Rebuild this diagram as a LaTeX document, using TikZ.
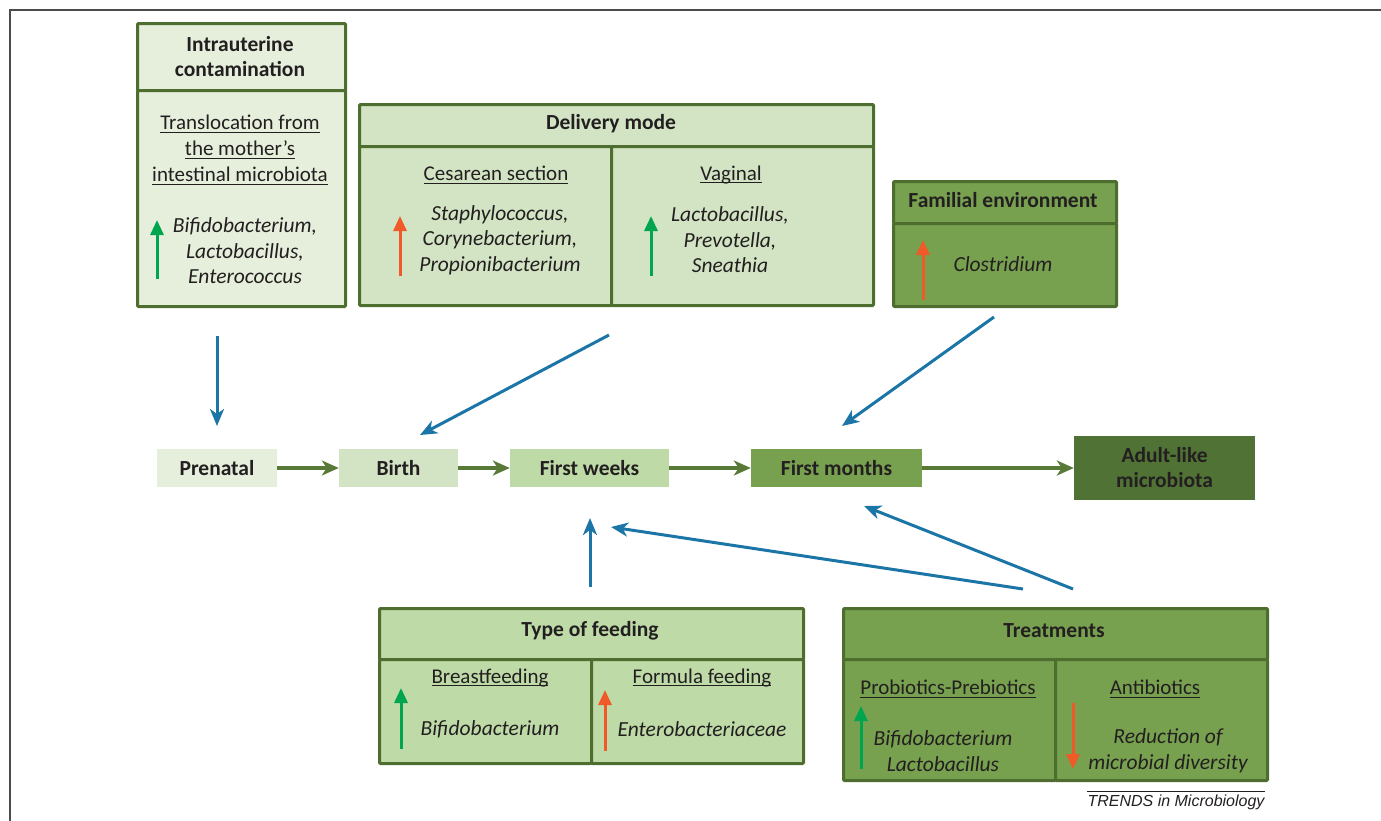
\documentclass[tikz,border=0pt]{standalone}
\usepackage{fontspec}
\setmainfont{Carlito}
\newfontfamily\arialf{Liberation Sans}
\usetikzlibrary{arrows.meta}
\definecolor{bord}{HTML}{4E6E30}
\definecolor{txt}{HTML}{231F20}
\definecolor{fA}{HTML}{E5EFDC}
\definecolor{fB}{HTML}{D2E4C3}
\definecolor{fC}{HTML}{BDDAA7}
\definecolor{fD}{HTML}{77A04F}
\definecolor{fE}{HTML}{507234}
\definecolor{bluea}{HTML}{1B75A6}
\definecolor{greena}{HTML}{00A550}
\definecolor{orangea}{HTML}{F05A28}
\definecolor{tlgreen}{HTML}{587A36}
\newcommand\ulx[1]{\setbox0\hbox{#1}\rlap{\rule[-3pt]{\wd0}{1pt}}\box0}
\tikzset{
  cell/.style={draw=bord, line width=3pt, inner sep=0pt, anchor=north west, rounded corners=1pt},
  head/.style={text=txt, font=\bfseries\fontsize{21.5}{25}\selectfont, align=center, inner sep=0pt},
  body/.style={text=txt, font=\fontsize{21}{26}\selectfont, align=center, inner sep=0pt},
  itl/.style={text=txt, font=\itshape\fontsize{21.5}{25.5}\selectfont, align=center, inner sep=0pt},
  tl/.style={text=txt, font=\bfseries\fontsize{21.5}{25}\selectfont, align=center, inner sep=0pt},
  uparr/.style={line width=3pt, -{Triangle[length=15pt,width=13pt]}},
  bluearr/.style={draw=bluea, line width=3pt, -{Stealth[length=17pt,width=14pt,inset=5pt]}},
  tlarr/.style={draw=tlgreen, line width=3.5pt, -{Stealth[length=17pt,width=15pt,inset=5pt]}},
}
\begin{document}
\begin{tikzpicture}[x=1pt,y=-1pt]
\useasboundingbox (0,0) rectangle (1381,820);
\draw[color=black!70, line width=2pt] (10,821) -- (10,10) -- (1382,10);

% Intrauterine contamination
\node[cell, fill=fA, minimum width=208pt, minimum height=67pt] (iuH) at (136,22) {};
\node[cell, fill=fA, minimum width=208pt, minimum height=216pt] (iuB) at (136,89) {};
\node[head] (iuHt) at (240,57) {Intrauterine\\contamination};
\node[body] (iuBt) at (240,150) {\ulx{Translocation from}\\\ulx{the mother's}\\\ulx{intestinal microbiota}};
\node[itl] (iuBi) at (245,251) {Bifidobacterium,\\Lactobacillus,\\Enterococcus};
\coordinate (iuA1) at (157,279); \coordinate (iuA2) at (157,220);
\draw[uparr, greena] (iuA1) -- (iuA2);

% Delivery mode
\node[cell, fill=fB, minimum width=514pt, minimum height=42pt] (dmH) at (358,103) {};
\node[cell, fill=fB, minimum width=252pt, minimum height=159pt] (dmL) at (358,145) {};
\node[cell, fill=fB, minimum width=262pt, minimum height=159pt] (dmR) at (610,145) {};
\node[head] (dmHt) at (611,124) {Delivery mode};
\node[body] (dmLt) at (496,175) {\ulx{Cesarean section}};
\node[itl] (dmLi) at (500,240) {Staphylococcus,\\Corynebacterium,\\Propionibacterium};
\node[body] (dmRt) at (731,175) {\ulx{Vaginal}};
\node[itl] (dmRi) at (730,240) {Lactobacillus,\\Prevotella,\\Sneathia};
\coordinate (dmA1) at (400,276); \coordinate (dmA2) at (400,216);
\draw[uparr, orangea] (dmA1) -- (dmA2);
\coordinate (dmB1) at (651,276); \coordinate (dmB2) at (651,216);
\draw[uparr, greena] (dmB1) -- (dmB2);

% Familial environment
\node[cell, fill=fD, minimum width=223pt, minimum height=42pt] (feH) at (892,180) {};
\node[cell, fill=fD, minimum width=223pt, minimum height=83pt] (feB) at (892,222) {};
\node[head] (feHt) at (1003,200) {Familial environment};
\node[itl] (feBi) at (1003,264) {Clostridium};
\coordinate (feA1) at (923,300); \coordinate (feA2) at (923,240);
\draw[uparr, orangea] (feA1) -- (feA2);

% Timeline
\node[tl, fill=fA, minimum width=120pt, minimum height=38pt] (pre) at (217,468) {Prenatal};
\node[tl, fill=fB, minimum width=119pt, minimum height=38pt] (birth) at (398.5,468) {Birth};
\node[tl, fill=fC, minimum width=159pt, minimum height=38pt] (fw) at (589.5,468) {First weeks};
\node[tl, fill=fD, minimum width=171pt, minimum height=38pt] (fm) at (836.5,468) {First months};
\node[tl, fill=fE, minimum width=181pt, minimum height=64pt] (adult) at (1164.5,468) {Adult-like\\microbiota};
\draw[tlarr] (pre) -- (birth);
\draw[tlarr] (birth) -- (fw);
\draw[tlarr] (fw) -- (fm);
\draw[tlarr] (fm) -- (adult);

% Blue arrows
\coordinate (b1s) at (217,336); \coordinate (b1e) at (217,426);
\draw[bluearr] (b1s) -- (b1e);
\coordinate (b2s) at (609,335); \coordinate (b2e) at (420,435);
\draw[bluearr] (b2s) -- (b2e);
\coordinate (b3s) at (994,317); \coordinate (b3e) at (842,426);
\draw[bluearr] (b3s) -- (b3e);
\coordinate (b4s) at (590,587); \coordinate (b4e) at (590,518);
\draw[bluearr] (b4s) -- (b4e);
\coordinate (b5s) at (1023,589); \coordinate (b5e) at (611,527);
\draw[bluearr] (b5s) -- (b5e);
\coordinate (b6s) at (1073,589); \coordinate (b6e) at (864,506);
\draw[bluearr] (b6s) -- (b6e);

% Type of feeding
\node[cell, fill=fC, minimum width=424pt, minimum height=51pt] (tfH) at (378,607) {};
\node[cell, fill=fC, minimum width=212pt, minimum height=104pt] (tfL) at (378,658) {};
\node[cell, fill=fC, minimum width=212pt, minimum height=104pt] (tfR) at (590,658) {};
\node[head] (tfHt) at (590,631) {Type of feeding};
\node[body] (tfLt) at (490,678) {\ulx{Breastfeeding}};
\node[itl] (tfLi) at (490,729) {Bifidobacterium};
\node[body] (tfRt) at (702,678) {\ulx{Formula feeding}};
\node[itl] (tfRi) at (702,729) {Enterobacteriaceae};
\coordinate (tfA1) at (401,749); \coordinate (tfA2) at (401,688);
\draw[uparr, greena] (tfA1) -- (tfA2);
\coordinate (tfB1) at (605,751); \coordinate (tfB2) at (605,690);
\draw[uparr, orangea] (tfB1) -- (tfB2);

% Treatments
\node[cell, fill=fD, minimum width=424pt, minimum height=51pt] (trH) at (842,607) {};
\node[cell, fill=fD, minimum width=212pt, minimum height=121pt] (trL) at (842,658) {};
\node[cell, fill=fD, minimum width=212pt, minimum height=121pt] (trR) at (1054,658) {};
\node[head] (trHt) at (1054,631) {Treatments};
\node[body] (trLt) at (948,689) {\ulx{Probiotics-Prebiotics}};
\node[itl] (trLi) at (943,751) {Bifidobacterium\\Lactobacillus};
\node[body] (trRt) at (1155,689) {\ulx{Antibiotics}};
\node[itl] (trRi) at (1168,751) {Reduction of\\microbial diversity};
\coordinate (trA1) at (861,769); \coordinate (trA2) at (861,706);
\draw[uparr, greena] (trA1) -- (trA2);
\coordinate (trB1) at (1073,703); \coordinate (trB2) at (1073,769);
\draw[uparr, orangea] (trB1) -- (trB2);

% Credit
\node[text=txt, font=\arialf\itshape\fontsize{16}{18}\selectfont, inner sep=0pt] (trends) at (1176,802) {TRENDS in Microbiology};
\draw[txt, line width=0.8pt] ([yshift=3pt]trends.north west) -- ([yshift=3pt]trends.north east);
\end{tikzpicture}
\end{document}
